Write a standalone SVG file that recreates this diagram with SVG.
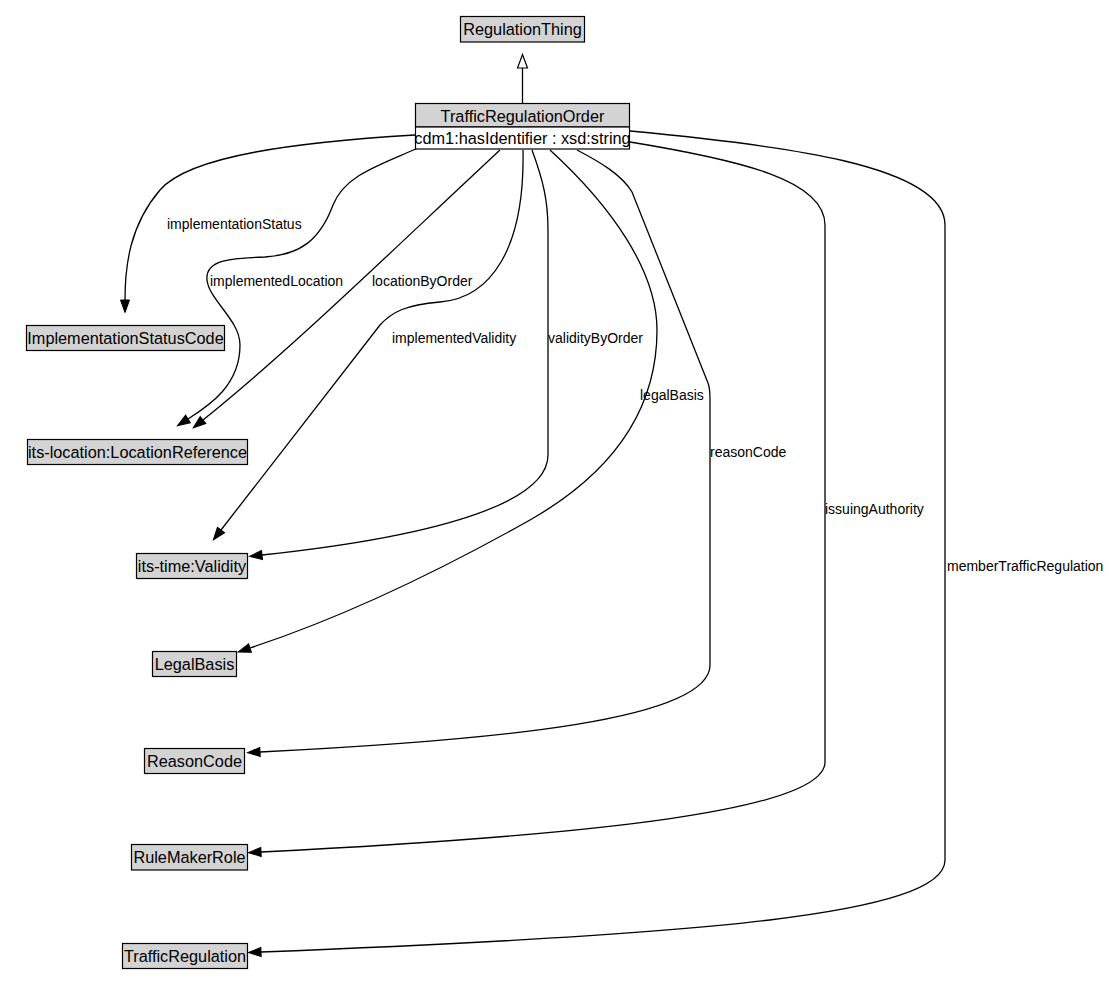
<svg xmlns="http://www.w3.org/2000/svg" width="1113" height="1006" viewBox="0 0 1113 1006">
<style>
.box{fill:#d3d3d3;stroke:#000;stroke-width:1.2}
.row{fill:#fff;stroke:#000;stroke-width:1.2}
.nt{font-family:"Liberation Sans",Arial,sans-serif;font-size:16.3px;fill:#000;text-anchor:middle}
.el{font-family:"Liberation Sans",Arial,sans-serif;font-size:14px;fill:#000}
.e{fill:none;stroke:#000;stroke-width:1.3}
</style>
<defs>
<marker id="ah" markerUnits="userSpaceOnUse" markerWidth="14" markerHeight="10" refX="0" refY="4.5" orient="auto" overflow="visible">
<path d="M0,0 L12.5,4.5 L0,9 z" fill="#000" stroke="#000" stroke-width="1"/>
</marker>
<marker id="hollow" markerUnits="userSpaceOnUse" markerWidth="14" markerHeight="12" refX="0" refY="5" orient="auto" overflow="visible">
<path d="M0,0 L13.5,5 L0,10 z" fill="#fff" stroke="#000" stroke-width="1.2"/>
</marker>
</defs>
<g id="edges">
<path class="e" d="M522.5,103 L522.5,68" marker-end="url(#hollow)"/>
<path class="e" d="M415,135 C300,142 190,155 160,190 C130,225 125,265 125,300" marker-end="url(#ah)"/>
<path class="e" d="M418,148 C380,165 345,175 333,205 C320,240 300,255 265,257 C230,258 205,260 207,280 C209,300 240,320 240,345 C240,385 210,405 188,419" marker-end="url(#ah)"/>
<path class="e" d="M500,150 C380,262 290,350 203,420" marker-end="url(#ah)"/>
<path class="e" d="M523,150 C525,250 490,298 440,302 C405,305 392,312 380,325 L221,530" marker-end="url(#ah)"/>
<path class="e" d="M532,150 C543,180 548,200 548,230 L548,455 C548,500 450,535 262,555" marker-end="url(#ah)"/>
<path class="e" d="M550,150 C610,205 657,270 657,330 C657,420 600,480 530,520 C450,565 350,615 250,648" marker-end="url(#ah)"/>
<path class="e" d="M577,150 C600,162 622,175 632,192 L708,383 C710,388 710,392 710,400 L710,665 C710,720 500,740 260,752" marker-end="url(#ah)"/>
<path class="e" d="M630,142 C740,160 825,180 825,225 L825,762 C825,810 600,835 261,852" marker-end="url(#ah)"/>
<path class="e" d="M630,131 C780,145 945,165 945,225 L945,860 C945,915 700,935 261,952" marker-end="url(#ah)"/>
<text class="el" x="167" y="229">implementationStatus</text>
<text class="el" x="210" y="286">implementedLocation</text>
<text class="el" x="372" y="286">locationByOrder</text>
<text class="el" x="392" y="343">implementedValidity</text>
<text class="el" x="548" y="343">validityByOrder</text>
<text class="el" x="640" y="400">legalBasis</text>
<text class="el" x="710" y="457">reasonCode</text>
<text class="el" x="825" y="514">issuingAuthority</text>
<text class="el" x="947" y="571">memberTrafficRegulation</text>
</g>
<g id="RegulationThing">
<rect class="box" x="460.5" y="16.5" width="124" height="25.5"/>
<text class="nt" x="522.5" y="35">RegulationThing</text>
</g>
<g id="TrafficRegulationOrder">
<rect class="box" x="415.5" y="103.5" width="214" height="23.5"/>
<rect class="row" x="415.5" y="127" width="214" height="22"/>
<text class="nt" x="522.5" y="121.5">TrafficRegulationOrder</text>
<text class="nt" x="522.5" y="144">cdm1:hasIdentifier : xsd:string</text>
</g>
<g id="ImplementationStatusCode">
<rect class="box" x="26.5" y="325.5" width="198" height="25"/>
<text class="nt" x="125.5" y="343.5">ImplementationStatusCode</text>
</g>
<g id="LocationReference">
<rect class="box" x="27.5" y="439.5" width="220" height="25"/>
<text class="nt" x="137.5" y="457.5">its-location:LocationReference</text>
</g>
<g id="Validity">
<rect class="box" x="136.5" y="553.5" width="111" height="25"/>
<text class="nt" x="192" y="571.5">its-time:Validity</text>
</g>
<g id="LegalBasis">
<rect class="box" x="152.5" y="651.5" width="84" height="25"/>
<text class="nt" x="194.5" y="669.5">LegalBasis</text>
</g>
<g id="ReasonCode">
<rect class="box" x="144.5" y="748.5" width="100" height="25"/>
<text class="nt" x="194.5" y="766.5">ReasonCode</text>
</g>
<g id="RuleMakerRole">
<rect class="box" x="131.5" y="844.5" width="116" height="25.5"/>
<text class="nt" x="189.5" y="863">RuleMakerRole</text>
</g>
<g id="TrafficRegulation">
<rect class="box" x="122.5" y="943.5" width="125" height="25"/>
<text class="nt" x="185" y="961.5">TrafficRegulation</text>
</g>
</svg>
